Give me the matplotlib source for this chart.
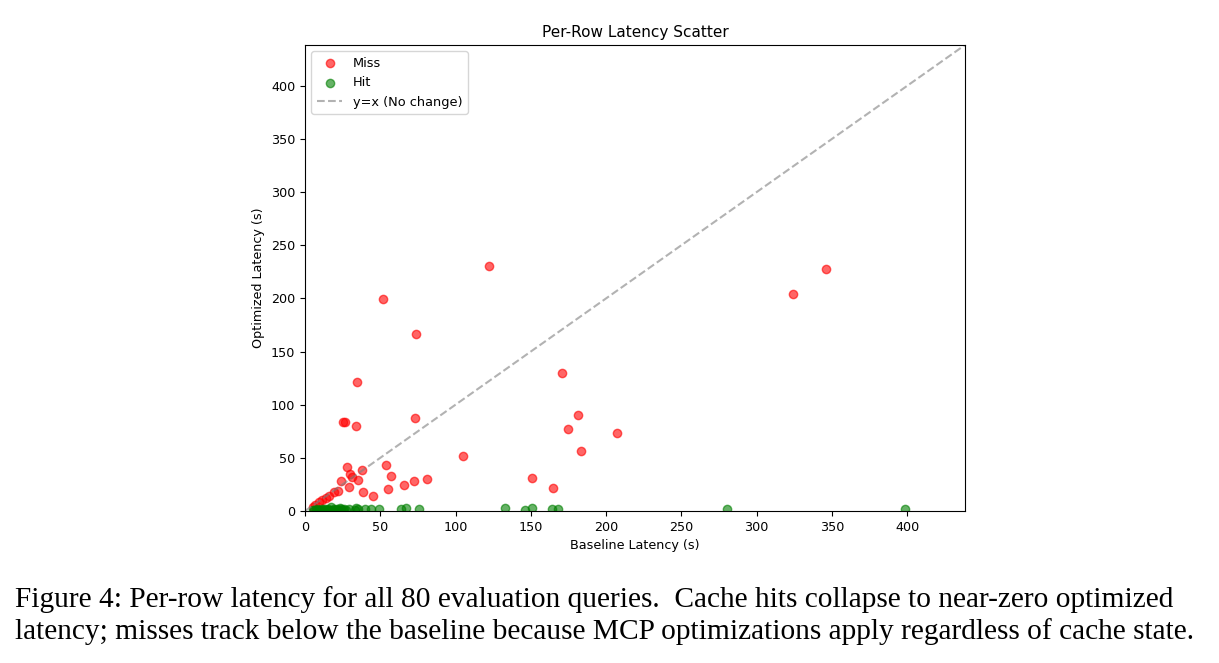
import matplotlib
matplotlib.use("Agg")
import matplotlib.pyplot as plt


# cache misses: baseline vs optimized latency (s)
miss_baseline = [122, 52, 74, 34.5, 73, 34, 25.5, 26.5, 105, 171, 181, 175, 183, 207, 151, 165, 324, 346,
                 54, 28, 38, 30, 31, 24, 35, 57, 29, 38.5, 45, 55, 66, 72.5, 81,
                 22, 19, 16, 14, 11, 9, 6.5, 5.5]
miss_optimized = [230.5, 199, 166.5, 121.5, 87.5, 80, 84, 84, 52, 130, 90, 77, 56.5, 73.5, 31, 21.5, 204, 227.5,
                  43, 41, 39, 35, 32, 28.5, 29, 33, 22.5, 18, 14, 21, 24.5, 28, 30.5,
                  19, 17.5, 14, 12.5, 10.5, 8.5, 5.5, 4]

# cache hits: optimized latency collapses to near zero
hit_baseline = [5, 6, 7, 8, 9, 10, 11, 12, 13, 14, 15, 16, 17, 18, 19, 20, 21, 22, 23, 24, 25, 26, 27, 29,
                33, 34, 35, 40, 44, 49, 64, 67, 75.5, 133, 146, 151, 164, 168, 280, 398.5]
hit_optimized = [0.5, 1, 0.8, 1.5, 1, 1.2, 2, 0.8, 1.5, 1, 2, 1.2, 4, 1, 1.5, 0.8, 2, 1.2, 3, 1.5, 0.8, 1.5, 1.2, 1.5,
                 1.2, 3, 1.5, 1.5, 1.5, 1.5, 2, 2.5, 2, 3, 1, 2.5, 1.5, 1.5, 1.5, 1.5]

caption_lines = [
    "Figure 4: Per-row latency for all 80 evaluation queries.  Cache hits collapse to near-zero optimized",
    "latency; misses track below the baseline because MCP optimizations apply regardless of cache state.",
]

fig = plt.figure(figsize=(12.19, 6.63), dpi=100)
ax = fig.add_axes([0.2502, 0.2293, 0.5414, 0.7028])

ax.scatter(miss_baseline, miss_optimized, color="red", alpha=0.6, label="Miss")
ax.scatter(hit_baseline, hit_optimized, color="green", alpha=0.6, label="Hit")

lim = max(max(miss_baseline), max(hit_baseline), max(miss_optimized)) * 1.1
ax.plot([0, lim], [0, lim], "--", color="gray", alpha=0.6, label="y=x (No change)")
ax.set_xlim(0, lim)
ax.set_ylim(0, lim)

ax.set_title("Per-Row Latency Scatter", fontsize=11)
ax.set_xlabel("Baseline Latency (s)", fontsize=9.2)
ax.set_ylabel("Optimized Latency (s)", fontsize=9.2)
ax.tick_params(labelsize=9.2)
ax.legend(loc="upper left", fontsize=9.3)

fig.text(0.012, 0.095, caption_lines[0], family="Liberation Serif", fontsize=21.2, ha="left", va="center")
fig.text(0.012, 0.047, caption_lines[1], family="Liberation Serif", fontsize=21.2, ha="left", va="center")

fig.savefig("out.png", dpi=100)
